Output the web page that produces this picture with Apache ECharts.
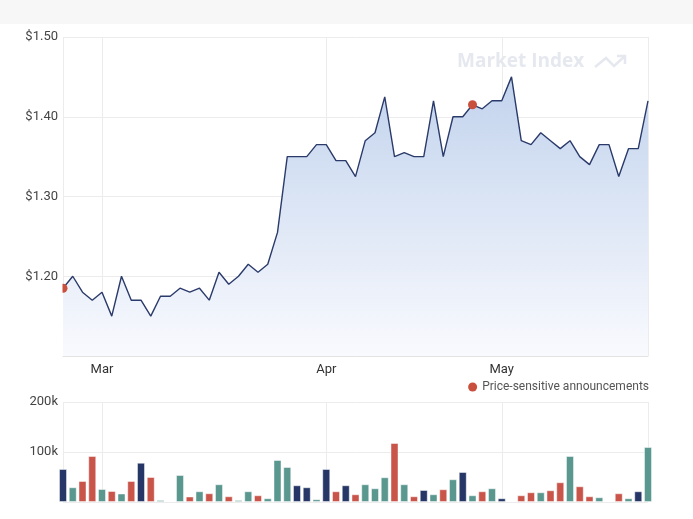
<!DOCTYPE html>
<html>
<head>
<meta charset="utf-8">
<script src="https://cdn.jsdelivr.net/npm/echarts@6/dist/echarts.min.js"></script>
<style>
html, body { margin: 0; padding: 0; background: #fff; }
#main { width: 693px; height: 519px; }
</style>
</head>
<body>
<div id="main"></div>
<script>
// trading days shown on the x axis
const dates = [
    'Feb 23', 'Feb 24', 'Feb 25', 'Feb 26',
    'Mar 1', 'Mar 2', 'Mar 3', 'Mar 4', 'Mar 5', 'Mar 8', 'Mar 9', 'Mar 10', 'Mar 11', 'Mar 12',
    'Mar 15', 'Mar 16', 'Mar 17', 'Mar 18', 'Mar 19', 'Mar 22', 'Mar 23', 'Mar 24', 'Mar 25', 'Mar 26',
    'Mar 29', 'Mar 30', 'Mar 31',
    'Apr 1', 'Apr 6', 'Apr 7', 'Apr 8', 'Apr 9', 'Apr 12', 'Apr 13', 'Apr 14', 'Apr 15', 'Apr 16',
    'Apr 19', 'Apr 20', 'Apr 21', 'Apr 22', 'Apr 23', 'Apr 27', 'Apr 28', 'Apr 29',
    'May 3', 'May 4', 'May 5', 'May 6', 'May 7', 'May 10', 'May 11', 'May 12', 'May 13', 'May 14',
    'May 17', 'May 18', 'May 19', 'May 20', 'May 21', 'May 24'
];

// closing price ($)
const prices = [
    1.185, 1.20, 1.18, 1.17, 1.18, 1.15, 1.20, 1.17, 1.17, 1.15,
    1.175, 1.175, 1.185, 1.18, 1.185, 1.17, 1.205, 1.19, 1.20, 1.215,
    1.205, 1.215, 1.255, 1.35, 1.35, 1.35, 1.365, 1.365, 1.345, 1.345,
    1.325, 1.37, 1.38, 1.425, 1.35, 1.355, 1.35, 1.35, 1.42, 1.35,
    1.40, 1.40, 1.415, 1.41, 1.42, 1.42, 1.45, 1.37, 1.365, 1.38,
    1.37, 1.36, 1.37, 1.35, 1.34, 1.365, 1.365, 1.325, 1.36, 1.36,
    1.42
];

// traded volume
const volumes = [
    66000, 29500, 42000, 92000, 26000, 22000, 17000, 42000, 78500, 50000,
    4000, 2000, 54000, 11000, 21500, 17500, 35500, 11500, 4000, 21500,
    13500, 7500, 84000, 70000, 33500, 29500, 5500, 66000, 21500, 33500,
    15500, 35500, 27500, 49500, 118000, 35500, 11500, 24000, 15500, 25500,
    45500, 60000, 13500, 21500, 27500, 7500, 2000, 13500, 19500, 19500,
    23500, 39500, 92000, 31500, 11500, 9500, 2000, 17500, 7500, 21500,
    110000
];

// days with a price-sensitive announcement (index into dates)
const announcements = [0, 42];

const UP = '#5a978f', DOWN = '#c8544a', FLAT = '#263667';

function monthOf(d) { return d.split(' ')[0]; }
function isMonthStart(i) { return i > 0 && monthOf(dates[i]) !== monthOf(dates[i - 1]); }
function isGridLine(i) { return i === 0 || i === dates.length - 1 || isMonthStart(i); }

var chartDom = document.getElementById('main');
var myChart = echarts.init(chartDom);
var font = 'Roboto';

var barData = volumes.map((v, i) => {
    var c = FLAT;
    if (i > 0) {
        if (prices[i] > prices[i - 1]) c = UP;
        else if (prices[i] < prices[i - 1]) c = DOWN;
    }
    return { value: v, itemStyle: { color: c } };
});

var option = {
    animation: false,
    backgroundColor: '#fff',
    textStyle: { fontFamily: font },
    graphic: [
        { type: 'rect', shape: { x: 0, y: 0, width: 693, height: 24 }, style: { fill: '#f7f7f7' }, z: -1 },
        // hides the part of the first marker that falls left of the plot
        { type: 'rect', shape: { x: 55, y: 282.5, width: 7.5, height: 11 }, style: { fill: '#fff' }, z: 100 },
        {
            type: 'text', left: 457, top: 52, z: 1,
            style: { text: 'Market Index', fill: '#e6e8ef', font: 'bold 19px "Open Sans"' }
        },
        {
            type: 'polyline', z: 1,
            shape: { points: [[595, 67], [606, 58], [614, 66], [625, 56]] },
            style: { stroke: '#e6e8ef', lineWidth: 2.5, fill: null }
        },
        {
            type: 'polyline', z: 1,
            shape: { points: [[617, 56], [625, 56], [625, 64]] },
            style: { stroke: '#e6e8ef', lineWidth: 2.5, fill: null }
        }
    ],
    legend: {
        data: ['Price-sensitive announcements'],
        right: 39,
        top: 376,
        icon: 'circle',
        itemWidth: 9,
        itemHeight: 9,
        itemGap: 4,
        textStyle: { color: '#555', fontSize: 12, fontFamily: font }
    },
    grid: [
        { left: 63, right: 45, top: 37, height: 319 },
        { left: 63, right: 45, top: 402, height: 100 }
    ],
    xAxis: [
        {
            type: 'category', gridIndex: 0, data: dates, boundaryGap: false,
            axisLine: { lineStyle: { color: '#e3e3e3' } },
            axisTick: { show: false },
            axisLabel: {
                interval: (i) => isMonthStart(i),
                formatter: (v) => monthOf(v),
                color: '#333', fontSize: 13, margin: 7
            },
            splitLine: { show: true, interval: (i) => isGridLine(i), lineStyle: { color: '#ececec' } }
        },
        {
            type: 'category', gridIndex: 1, data: dates, boundaryGap: false,
            axisLine: { show: false },
            axisTick: { show: false },
            axisLabel: { show: false },
            splitLine: { show: true, interval: (i) => isGridLine(i), lineStyle: { color: '#ececec' } }
        }
    ],
    yAxis: [
        {
            type: 'value', gridIndex: 0, min: 1.1, max: 1.5, interval: 0.1,
            axisLine: { show: false }, axisTick: { show: false },
            axisLabel: {
                color: '#444', fontSize: 13, margin: 5,
                formatter: (v) => v < 1.15 ? '' : '$' + v.toFixed(2)
            },
            splitLine: { lineStyle: { color: '#ececec' } }
        },
        {
            type: 'value', gridIndex: 1, min: 0, max: 200000, interval: 100000,
            axisLine: { show: false }, axisTick: { show: false },
            axisLabel: {
                color: '#444', fontSize: 13, margin: 5,
                formatter: (v) => v === 0 ? '' : (v / 1000) + 'k'
            },
            splitLine: { lineStyle: { color: '#ececec' } }
        }
    ],
    series: [
        {
            name: 'Price', type: 'line', xAxisIndex: 0, yAxisIndex: 0,
            data: prices, symbol: 'none',
            lineStyle: { color: '#2a3a6a', width: 1.4 },
            areaStyle: {
                opacity: 1,
                color: new echarts.graphic.LinearGradient(0, 0, 0, 1, [
                    { offset: 0, color: 'rgb(194,211,237)' },
                    { offset: 1, color: 'rgb(249,250,254)' }
                ])
            }
        },
        {
            name: 'Price-sensitive announcements', type: 'scatter', xAxisIndex: 0, yAxisIndex: 0,
            data: announcements.map((i) => [i, prices[i]]),
            symbolSize: 9, z: 5,
            itemStyle: { color: '#c9503d', opacity: 1 }
        },
        {
            name: 'Volume', type: 'bar', xAxisIndex: 1, yAxisIndex: 1,
            data: barData, barWidth: 8,
            itemStyle: { borderColor: 'rgba(255,255,255,0.45)', borderWidth: 1 }
        }
    ]
};

option && myChart.setOption(option);
</script>
</body>
</html>
